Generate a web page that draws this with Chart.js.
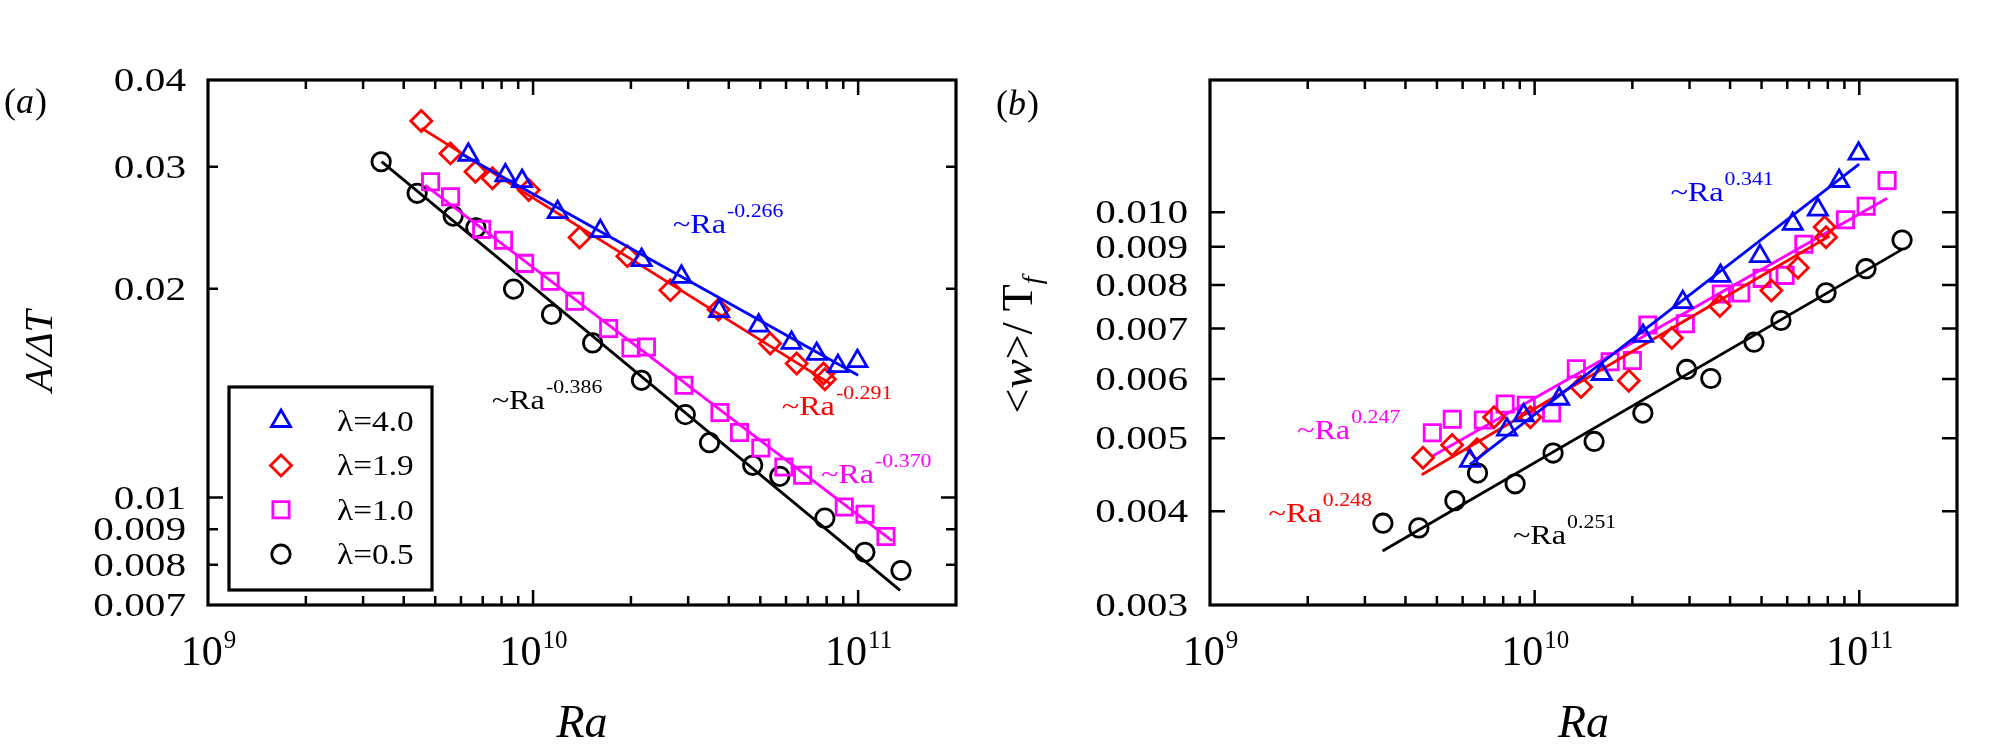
<!DOCTYPE html>
<html>
<head>
<meta charset="utf-8">
<script src="https://cdn.jsdelivr.net/npm/chart.js@4.4.0/dist/chart.umd.min.js"></script>
<style>
  body { margin: 0; background: #fff; width: 1998px; height: 755px; overflow: hidden; }
  .panel { position: absolute; top: 0; }
</style>
</head>
<body>
<div class="panel" style="left:0"><canvas id="chartA" width="990" height="755"></canvas></div>
<div class="panel" style="left:990px"><canvas id="chartB" width="1008" height="755"></canvas></div>
<script>
// Ra of each run, one list per aspect ratio (same runs in both panels)
var raBlue = [6.32e9, 8.22e9, 9.25e9, 1.19e10, 1.61e10, 2.157e10, 2.86e10, 3.736e10, 4.945e10, 6.24e10, 7.455e10, 8.67e10, 9.95e10];
var raRed = [4.53e9, 5.57e9, 6.65e9, 7.5e9, 9.7e9, 1.39e10, 1.95e10, 2.645e10, 3.72e10, 5.36e10, 6.47e10, 7.82e10, 7.9e10];
var raMagenta = [4.84e9, 5.575e9, 6.95e9, 8.11e9, 9.42e9, 1.128e10, 1.344e10, 1.708e10, 2.0e10, 2.232e10, 2.912e10, 3.758e10, 4.315e10, 5.02e10, 5.91e10, 6.75e10, 9.065e10, 1.05e11, 1.218e11];
var raBlack = [3.41e9, 4.4e9, 5.68e9, 6.67e9, 8.71e9, 1.14e10, 1.525e10, 2.155e10, 2.94e10, 3.49e10, 4.74e10, 5.74e10, 7.9e10, 1.049e11, 1.355e11];

// (a) A / dT
var aBlue = [0.03121, 0.02914, 0.0286, 0.0258, 0.02422, 0.022, 0.02081, 0.01857, 0.0177, 0.01671, 0.01611, 0.01547, 0.01573];
var aRed = [0.0349, 0.03135, 0.0295, 0.02886, 0.02776, 0.02372, 0.02229, 0.01991, 0.01867, 0.01668, 0.01561, 0.0151, 0.01481];
var aMagenta = [0.02853, 0.02715, 0.02436, 0.0235, 0.02176, 0.02051, 0.01919, 0.01753, 0.01643, 0.01649, 0.01452, 0.01326, 0.01241, 0.01179, 0.01107, 0.01077, 0.00969, 0.00946, 0.00879];
var aBlack = [0.03049, 0.02746, 0.02546, 0.02449, 0.01998, 0.01837, 0.01671, 0.01476, 0.01317, 0.012, 0.01113, 0.01073, 0.00934, 0.00834, 0.00785];

// (b) <w> / Tf
var wBlue = [0.004668, 0.005136, 0.005367, 0.005646, 0.006091, 0.006844, 0.007591, 0.008226, 0.008741, 0.009649, 0.010083, 0.011005, 0.011966];
var wRed = [0.004713, 0.004898, 0.004836, 0.005334, 0.005334, 0.005852, 0.005966, 0.006802, 0.007503, 0.007865, 0.008436, 0.009561, 0.009262];
var wMagenta = [0.005088, 0.005303, 0.00529, 0.005556, 0.005534, 0.005404, 0.006188, 0.006324, 0.006347, 0.007078, 0.007107, 0.007784, 0.007806, 0.008166, 0.008241, 0.009064, 0.009775, 0.010188, 0.011025];
var wBlack = [0.003855, 0.0038, 0.00413, 0.004495, 0.00435, 0.00478, 0.004953, 0.005403, 0.006176, 0.006007, 0.006714, 0.007176, 0.007813, 0.008411, 0.009185];

// power-law fits, end points [Ra, value]
var fitABlue = [[6.1e9, 0.03118], [1.0e11, 0.01501]];
var fitARed = [[4.535e9, 0.0341], [8.2e10, 0.0146]];
var fitAMagenta = [[4.65e9, 0.02822], [1.273e11, 0.00866]];
var fitABlack = [[3.42e9, 0.0305], [1.346e11, 0.00735]];
var fitBBlue = [[6.31e9, 0.004612], [9.99e10, 0.011588]];
var fitBRed = [[4.49e9, 0.004472], [8.1e10, 0.0093]];
var fitBMagenta = [[4.82e9, 0.00473], [1.219e11, 0.01044]];
var fitBBlack = [[3.4e9, 0.00354], [1.356e11, 0.008925]];

var expA = ['-0.266', '-0.291', '-0.370', '-0.386'];
var expB = ['0.341', '0.248', '0.247', '0.251'];
var lambdas = ['4.0', '1.9', '1.0', '0.5'];

var xMajorTicks = [1e9, 1e10, 1e11];
var xMajorLabels = ['9', '10', '11'];
var yTicksA = [0.04, 0.03, 0.02, 0.01, 0.009, 0.008, 0.007];
var yLabelsA = ['0.04', '0.03', '0.02', '0.01', '0.009', '0.008', '0.007'];
var yTicksB = [0.010, 0.009, 0.008, 0.007, 0.006, 0.005, 0.004, 0.003];
var yLabelsB = ['0.010', '0.009', '0.008', '0.007', '0.006', '0.005', '0.004', '0.003'];

var xMinorTicks = [];
[1e9, 1e10].forEach(function (d) {
    for (var k = 2; k <= 9; k++) xMinorTicks.push(k * d);
});

var SERIF = '"Liberation Serif", "Times New Roman", Times, serif';
var LW = 2.8;
var styles = [
    { color: '#0000ff', shape: 'triangle', r: 11 },
    { color: '#ff0000', shape: 'rectRot', r: 10.5 },
    { color: '#ff00ff', shape: 'rect', r: 11.5 },
    { color: '#000000', shape: 'circle', r: 9.2 }
];

var panels = {
    chartA: {
        yTicks: yTicksA, yLabels: yLabelsA,
        yLen: [10, 10, 10, 15, 10, 10, 10],
        exps: expA,
        ann: [[2.69e10, 0.02408], [5.82e10, 0.01314], [7.68e10, 0.0105], [7.46e9, 0.01344]],
        letter: 'a', letterX: 4, letterY: 113,
        legend: true
    },
    chartB: {
        yTicks: yTicksB, yLabels: yLabelsB,
        yLen: [15, 15, 15, 15, 15, 15, 15, 15],
        exps: expB,
        ann: [[2.62e10, 0.01035], [1.515e9, 0.003866], [1.853e9, 0.00499], [8.57e9, 0.003619]],
        letter: 'b', letterX: 6, letterY: 115,
        legend: false
    }
};

function put(ctx, s, x, y, font, color, align, sx) {
    ctx.save();
    ctx.font = font;
    ctx.fillStyle = color || '#000';
    ctx.textAlign = align || 'left';
    ctx.textBaseline = 'alphabetic';
    ctx.translate(x, y);
    ctx.scale(sx || 1, 1);
    ctx.fillText(s, 0, 0);
    ctx.restore();
}

function textW(ctx, s, font, sx) {
    ctx.save();
    ctx.font = font;
    var w = ctx.measureText(s).width * (sx || 1);
    ctx.restore();
    return w;
}

// base with raised exponent, left aligned at x
function power(ctx, x, y, base, exp, f1, f2, rise, color, sx) {
    put(ctx, base, x, y, f1, color, 'left', sx);
    put(ctx, exp, x + textW(ctx, base, f1, sx) + 1, y - rise, f2, color, 'left', sx);
}

// pieces [text, font, dy] drawn rotated, centred on y
function vertical(ctx, x, y, pieces) {
    ctx.save();
    ctx.translate(x, y);
    ctx.rotate(-Math.PI / 2);
    var total = 0;
    pieces.forEach(function (p) { total += textW(ctx, p[0], p[1]); });
    var pos = -total / 2;
    pieces.forEach(function (p) {
        put(ctx, p[0], pos, p[2] || 0, p[1], '#000', 'left', 1);
        pos += textW(ctx, p[0], p[1]);
    });
    ctx.restore();
}

var frame = {
    id: 'frame',
    afterDraw: function (chart) {
        var p = panels[chart.canvas.id];
        var ctx = chart.ctx, a = chart.chartArea;
        var xs = chart.scales.x, ys = chart.scales.y;
        ctx.save();
        ctx.strokeStyle = '#000';
        ctx.lineWidth = 2.5;
        ctx.beginPath();
        function tickX(v, len) {
            var px = xs.getPixelForValue(v);
            if (px <= a.left + 1 || px >= a.right - 1) return;
            ctx.moveTo(px, a.bottom); ctx.lineTo(px, a.bottom - len);
            ctx.moveTo(px, a.top); ctx.lineTo(px, a.top + len);
        }
        function tickY(v, len) {
            var py = ys.getPixelForValue(v);
            if (py <= a.top + 1 || py >= a.bottom - 1) return;
            ctx.moveTo(a.left, py); ctx.lineTo(a.left + len, py);
            ctx.moveTo(a.right, py); ctx.lineTo(a.right - len, py);
        }
        xMinorTicks.forEach(function (v) { tickX(v, 9); });
        xMajorTicks.forEach(function (v) { tickX(v, 15); });
        p.yTicks.forEach(function (v, i) { tickY(v, p.yLen[i]); });
        ctx.stroke();
        ctx.lineWidth = 3.2;
        ctx.strokeRect(a.left, a.top, a.right - a.left, a.bottom - a.top);

        // tick labels
        var fy = '33px ' + SERIF;
        p.yTicks.forEach(function (v, i) {
            put(ctx, p.yLabels[i], a.left - 22, ys.getPixelForValue(v) + 11, fy, '#000', 'right', 1.25);
        });
        var f1 = '42px ' + SERIF, f2 = '25px ' + SERIF;
        xMajorTicks.forEach(function (v, i) {
            var w = textW(ctx, '10', f1) + textW(ctx, xMajorLabels[i], f2);
            power(ctx, xs.getPixelForValue(v) - w / 2, 665, '10', xMajorLabels[i], f1, f2, 17, '#000', 1);
        });

        // fit annotations
        var g1 = '28px ' + SERIF, g2 = '19px ' + SERIF;
        p.ann.forEach(function (q, i) {
            power(ctx, xs.getPixelForValue(q[0]), ys.getPixelForValue(q[1]), '~Ra', p.exps[i], g1, g2, 16, styles[i].color, 1.15);
        });

        // axis titles
        put(ctx, 'Ra', (a.left + a.right) / 2, 737, 'italic 46px ' + SERIF, '#000', 'center', 1);
        if (p.legend) {
            vertical(ctx, 52, 351, [['A/ΔT', 'italic 40px ' + SERIF]]);
        } else {
            vertical(ctx, 42, 345, [
                ['<', '44px ' + SERIF], ['w', 'italic 44px ' + SERIF], ['>/ T', '44px ' + SERIF],
                ['f', 'italic 28px ' + SERIF, 9]
            ]);
        }

        // panel letter
        var fp = '36px ' + SERIF, fpi = 'italic 36px ' + SERIF;
        var lx = p.letterX;
        put(ctx, '(', lx, p.letterY, fp); lx += textW(ctx, '(', fp);
        put(ctx, p.letter, lx, p.letterY, fpi); lx += textW(ctx, p.letter, fpi) + 1;
        put(ctx, ')', lx, p.letterY, fp);

        // legend box
        if (p.legend) {
            ctx.lineWidth = 3.2;
            ctx.strokeStyle = '#000';
            ctx.strokeRect(229, 387, 203, 203);
            lambdas.forEach(function (l, i) {
                var y = 421 + i * 44.4;
                ctx.strokeStyle = styles[i].color;
                ctx.fillStyle = 'rgba(0,0,0,0)';
                ctx.lineWidth = LW;
                Chart.helpers.drawPoint(ctx, { pointStyle: styles[i].shape, radius: styles[i].r, rotation: 0, borderWidth: LW }, 281, y);
                put(ctx, 'λ=' + l, 337, y + 10, '29px ' + SERIF, '#000', 'left', 1.15);
            });
        }
        ctx.restore();
    }
};

function pts(xs, ys) {
    return xs.map(function (x, i) { return { x: x, y: ys[i] }; });
}
function seg(p) {
    return p.map(function (q) { return { x: q[0], y: q[1] }; });
}

function build(id, ras, vals, fits, yMin, yMax, yWidth, padRight) {
    var ds = [];
    styles.forEach(function (s, i) {
        ds.push({
            label: 'λ=' + lambdas[i],
            data: pts(ras[i], vals[i]),
            pointStyle: s.shape,
            pointRadius: s.r,
            pointBorderWidth: LW,
            pointBorderColor: s.color,
            pointBackgroundColor: 'rgba(0,0,0,0)',
            showLine: false
        });
        ds.push({
            label: 'fit ' + lambdas[i],
            data: seg(fits[i]),
            showLine: true,
            borderColor: s.color,
            borderWidth: LW,
            pointRadius: 0,
            fill: false
        });
    });
    return new Chart(document.getElementById(id).getContext('2d'), {
        type: 'scatter',
        data: { datasets: ds },
        options: {
            responsive: false,
            animation: false,
            events: [],
            layout: { padding: { left: 0, top: 80, right: padRight, bottom: 0 } },
            plugins: { legend: { display: false }, tooltip: { enabled: false } },
            scales: {
                x: {
                    type: 'logarithmic', min: 1e9, max: 2e11,
                    ticks: { display: false }, grid: { display: false }, border: { display: false },
                    afterFit: function (s) { s.height = 150; }
                },
                y: {
                    type: 'logarithmic', min: yMin, max: yMax,
                    ticks: { display: false }, grid: { display: false }, border: { display: false },
                    afterFit: function (s) { s.width = yWidth; }
                }
            }
        },
        plugins: [frame]
    });
}

build('chartA', [raBlue, raRed, raMagenta, raBlack], [aBlue, aRed, aMagenta, aBlack],
    [fitABlue, fitARed, fitAMagenta, fitABlack], 0.007, 0.04, 208, 34);
build('chartB', [raBlue, raRed, raMagenta, raBlack], [wBlue, wRed, wMagenta, wBlack],
    [fitBBlue, fitBRed, fitBMagenta, fitBBlack], 0.003, 0.015, 220, 41);
</script>
</body>
</html>
